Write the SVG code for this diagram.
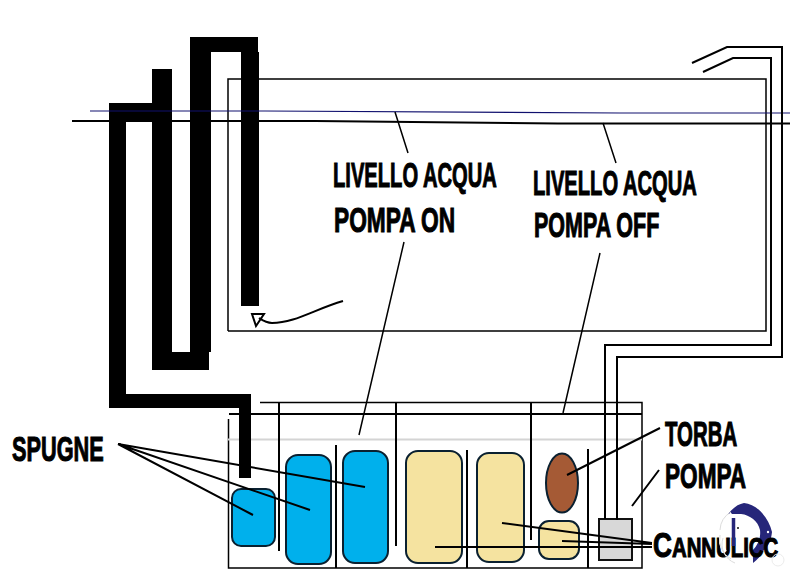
<svg xmlns="http://www.w3.org/2000/svg" width="790" height="572" viewBox="0 0 790 572">
<style>
.l{fill:none;stroke:#000;stroke-width:1.5}
.m{fill:none;stroke:#000;stroke-width:2}
.t{font-family:"Liberation Sans Narrow","Liberation Sans",sans-serif;font-weight:700;font-size:36px;fill:#000;stroke:#000;stroke-width:1.1}
.s{stroke:#0a2030;stroke-width:2}
.b{fill:#00b0ec}
.c{fill:#f5e3a0}
</style>
<rect width="790" height="572" fill="#fff"/>
<g id="tank"><path class="l" d="M228 331V79H766V331H228"/></g>
<g id="sump">
<path class="l" d="M260 402.500H642V568H228.500V419"/>
<path d="M228 439.500H642" stroke="#d4d4d4" stroke-width="2"/>
<path class="m" d="M229 414H642"/>
<path class="m" d="M279 402V551M336 445V568M396 402V546M467 450V568M531 402V540M588 449V568"/>
</g>
<g id="pipes">
<path d="M109 103H152V69H172V352H190V37H258V52L259 52V306H241V52H211V352H209V370H152V122H126V394H251V478H239V408H109Z" fill="#000"/>
</g>
<g id="spugna1"><rect class="s b" x="232" y="489" width="43" height="57" rx="9"/></g>
<g id="spugna2"><rect class="s b" x="286" y="455" width="45" height="109" rx="12"/></g>
<g id="spugna3"><rect class="s b" x="343" y="451" width="45" height="112" rx="12"/></g>
<g id="cannolicchi1"><rect class="s c" x="406" y="451" width="56" height="112" rx="12"/></g>
<g id="cannolicchi2"><rect class="s c" x="477" y="453" width="47" height="109" rx="12"/></g>
<g id="cannolicchi3"><rect class="s c" x="539" y="521" width="40" height="38" rx="10"/></g>
<g id="torba"><ellipse class="s" cx="562" cy="483" rx="16" ry="29.500" fill="#a55a35"/></g>
<g id="pompa"><rect x="599" y="519" width="33" height="41" fill="#d8d8d8" stroke="#111" stroke-width="2"/></g>
<g id="connectors">
<path d="M90 111H265L620 113H790" fill="none" stroke="#10106e" stroke-width="1.200"/>
<path d="M72 121H315L558 123.500H790" class="m"/>
<path class="l" d="M395 112L408 153M603 123L616 163M404 242L359 435M600 253L563 413"/>
<path class="m" d="M692 63L727 47H782V357H617V520M703 72L733 58H771V345H605V519"/>
<path class="m" d="M118 444L253 515M118 444L310 510M118 444L365 487"/>
<path class="m" d="M660 428L567 475M659 470L632 506"/>
<path class="m" d="M652 543L502 523M652 544L562 541M652 547L435 547"/>
<path class="m" d="M343 301C315 309 295 323 272 323C266 323 262 320 259 318M252 314H264L256 326Z"/>
</g>
<g id="logo-back">
<path d="M728 514C733 508 738 504 744 503C757 504 769 518 772 532C771 541 768 547 763 551C761 556 757 560 753 563C753 558 753 554 752 551C758 545 761 538 760 530C758 521 750 515 741 514C736 514 732 514 728 514Z" fill="#26267a"/>
</g>
<g id="labels">
<text class="t" transform="translate(333 187) scale(.7 1)" textLength="234" lengthAdjust="spacingAndGlyphs">LIVELLO ACQUA</text>
<text class="t" transform="translate(334 232) scale(.7 1)" textLength="173" lengthAdjust="spacingAndGlyphs">POMPA ON</text>
<text class="t" transform="translate(533 195) scale(.7 1)" textLength="234" lengthAdjust="spacingAndGlyphs">LIVELLO ACQUA</text>
<text class="t" transform="translate(534 237) scale(.7 1)" textLength="179" lengthAdjust="spacingAndGlyphs">POMPA OFF</text>
<text class="t" transform="translate(12 461) scale(.7 1)" textLength="131" lengthAdjust="spacingAndGlyphs">SPUGNE</text>
<text class="t" transform="translate(665 446) scale(.7 1)" textLength="103" lengthAdjust="spacingAndGlyphs">TORBA</text>
<text class="t" transform="translate(665 488) scale(.7 1)" textLength="116" lengthAdjust="spacingAndGlyphs">POMPA</text>
<text class="t" transform="translate(653 557) scale(.7 1)" textLength="179" lengthAdjust="spacingAndGlyphs">C<tspan font-size="28">ANNULICC</tspan></text>
</g>
<g id="logo">
<path d="M725 552A23 23 0 0 1 722 532C723 524 727 518 732 514" fill="none" stroke="#fff" stroke-width="4"/>
<path d="M720 535A22 22 0 0 0 731 559M723 538A20 20 0 0 0 735 563M720 530A22 22 0 0 1 731 512" fill="none" stroke="#dcdcdc" stroke-width="1"/>
<path d="M733.500 518V546" fill="none" stroke="#26267a" stroke-width="3.500"/>
<circle cx="738" cy="528" r="1" fill="#111"/>
<circle cx="768" cy="532" r="1.200" fill="#fff"/>
<circle cx="778" cy="560" r="6" fill="none" stroke="#ececec" stroke-width="1"/>
</g>
</svg>
